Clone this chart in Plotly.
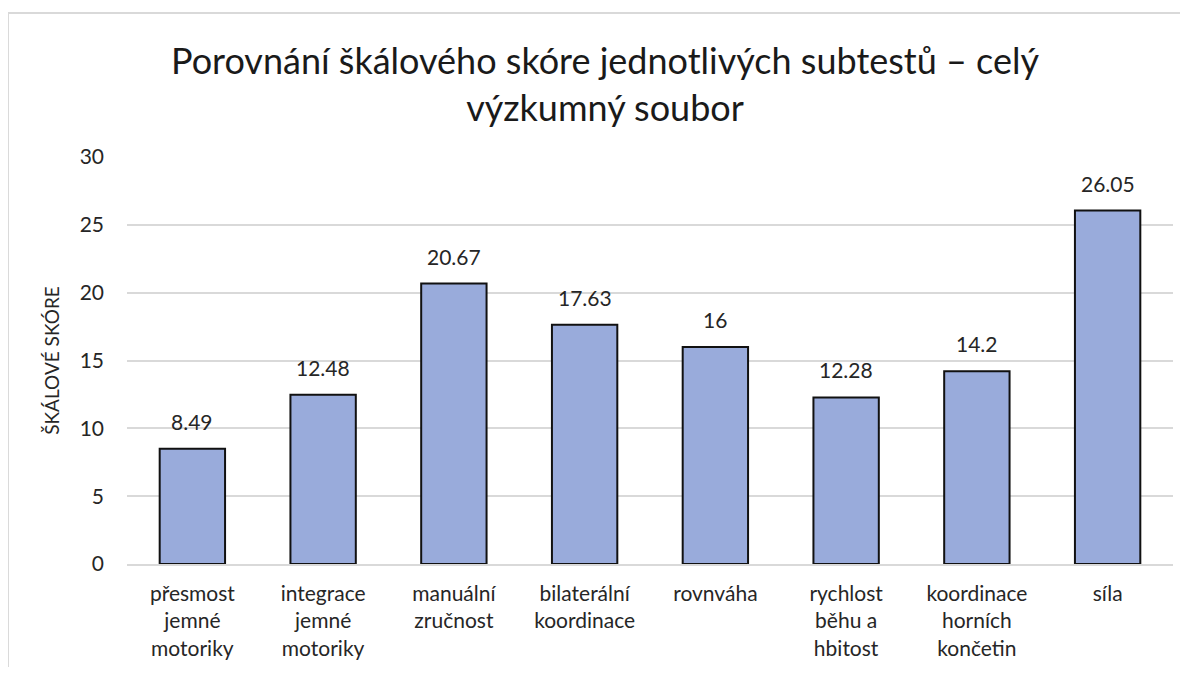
import plotly.graph_objects as go

categories = [
    "přesmost<br>jemné<br>motoriky",
    "integrace<br>jemné<br>motoriky",
    "manuální<br>zručnost",
    "bilaterální<br>koordinace",
    "rovnváha",
    "rychlost<br>běhu a<br>hbitost",
    "koordinace<br>horních<br>končetin",
    "síla",
]
values = [8.49, 12.48, 20.67, 17.63, 16, 12.28, 14.2, 26.05]
labels = ["8.49", "12.48", "20.67", "17.63", "16", "12.28", "14.2", "26.05"]
y_ticks = [0, 5, 10, 15, 20, 25, 30]

FONT = "Lato"
TXT = "#262626"

fig = go.Figure(
    go.Bar(
        x=categories,
        y=values,
        marker=dict(color="#99abdb", line=dict(color="#111111", width=2)),
        width=0.5,
        hoverinfo="x+y",
    )
)

for c, v, t in zip(categories, values, labels):
    fig.add_annotation(
        x=c, y=v, text=t, showarrow=False,
        xref="x", yref="y", yanchor="bottom", yshift=13,
        font=dict(size=21, color=TXT, family=FONT),
    )

fig.update_layout(
    width=1172,
    height=659,
    margin=dict(l=119, r=7, t=149, b=100),
    paper_bgcolor="white",
    plot_bgcolor="white",
    font=dict(family=FONT, color=TXT),
    title=dict(
        text="Porovnání škálového skóre jednotlivých subtestů – celý<br>výzkumný soubor",
        x=597 / 1172,
        xref="container",
        xanchor="center",
        y=0.90,
        yref="container",
        yanchor="top",
        font=dict(size=36, family=FONT, color="#1a1a1a"),
    ),
    showlegend=False,
)

fig.update_yaxes(
    range=[0, 30],
    tickvals=y_ticks,
    showgrid=True,
    gridcolor="#d9d9d9",
    gridwidth=1.5,
    zeroline=False,
    showline=False,
    ticks="",
    ticklabelstandoff=22,
    tickfont=dict(size=21, color=TXT, family=FONT),
    title=dict(text="ŠKÁLOVÉ SKÓRE", font=dict(size=19, color=TXT, family=FONT), standoff=14),
)
fig.update_xaxes(
    showline=True,
    linecolor="#d9d9d9",
    linewidth=1.5,
    ticks="",
    ticklabelstandoff=10,
    tickfont=dict(size=21, color=TXT, family=FONT),
)

# chart-area border (cropped like the reference)
fig.add_shape(
    type="rect", xref="paper", yref="paper",
    x0=-0.1138, x1=1.3, y0=-0.5, y1=1.3537,
    line=dict(color="#d9d9d9", width=2),
    layer="below",
)

fig.write_html("out.html")
